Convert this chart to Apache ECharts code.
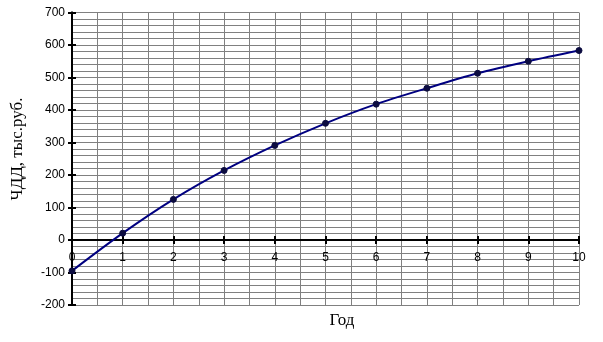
<!DOCTYPE html>
<html>
<head>
<meta charset="utf-8">
<script src="https://cdn.jsdelivr.net/npm/echarts@6/dist/echarts.min.js"></script>
<style>html,body{margin:0;padding:0;background:#fff}#c{width:603px;height:342px}</style>
</head>
<body>
<div id="c"></div>
<script>
var years = [0, 1, 2, 3, 4, 5, 6, 7, 8, 9, 10];
var npv = [-95, 21, 125, 214, 291, 359, 418, 467, 513, 550, 583];
var yTitle = 'ЧДД, тыс.руб.';
var xTitle = 'Год';

var chart = echarts.init(document.getElementById('c'), null, {renderer: 'canvas'});
var gridColor = '#808080';
var lblFont = {color: '#000', fontFamily: 'Liberation Sans, Arial, sans-serif', fontSize: 12};
var serif = '"Liberation Serif", "Times New Roman", serif';
chart.setOption({
  animation: false,
  backgroundColor: '#fff',
  grid: {left: 72, right: 24, top: 12.5, bottom: 37, containLabel: false},
  xAxis: [{
    type: 'value', min: 0, max: 10, interval: 1,
    axisLine: {onZero: true, lineStyle: {color: '#000', width: 2}},
    axisTick: {show: true, inside: false, length: 4, lineStyle: {color: '#000', width: 2}},
    axisLabel: Object.assign({margin: -53}, lblFont),
    minorTick: {show: false, splitNumber: 2},
    splitLine: {show: true, lineStyle: {color: gridColor, width: 1}},
    minorSplitLine: {show: true, lineStyle: {color: gridColor, width: 1}}
  }, {
    type: 'value', min: 0, max: 10, interval: 1, position: 'bottom',
    axisLine: {onZero: true, onZeroAxisIndex: 0, lineStyle: {color: '#000', width: 2}},
    axisTick: {show: true, inside: true, length: 4, lineStyle: {color: '#000', width: 2}},
    axisLabel: {show: false},
    splitLine: {show: false}
  }],
  yAxis: [{
    type: 'value', min: -200, max: 700, interval: 100,
    axisLine: {show: true, onZero: false, lineStyle: {color: '#000', width: 2}},
    axisTick: {show: true, inside: false, length: 4, lineStyle: {color: '#000', width: 2}},
    axisLabel: Object.assign({margin: 7}, lblFont),
    minorTick: {show: false, splitNumber: 5},
    splitLine: {show: true, lineStyle: {color: gridColor, width: 1}},
    minorSplitLine: {show: true, lineStyle: {color: gridColor, width: 1}}
  }, {
    type: 'value', min: -200, max: 700, interval: 100, position: 'left',
    axisLine: {show: true, onZero: false, lineStyle: {color: '#000', width: 2}},
    axisTick: {show: true, inside: true, length: 4, lineStyle: {color: '#000', width: 2}},
    axisLabel: {show: false},
    splitLine: {show: false}
  }],
  graphic: [{
    type: 'text', x: 342, y: 321,
    style: {text: xTitle, fill: '#000', font: '17px ' + serif, align: 'center', verticalAlign: 'middle'}
  }, {
    type: 'text', x: 18, y: 149, rotation: Math.PI / 2,
    style: {text: yTitle, fill: '#000', font: '17px ' + serif, align: 'center', verticalAlign: 'middle'}
  }],
  series: [{
    type: 'line',
    data: years.map(function (x, i) { return [x, npv[i]]; }),
    smooth: 0.3,
    symbol: 'circle', symbolSize: 6,
    itemStyle: {color: '#0c0c40', borderColor: '#0c0c40'},
    lineStyle: {color: '#000080', width: 2},
    z: 5
  }]
});
</script>
</body>
</html>
